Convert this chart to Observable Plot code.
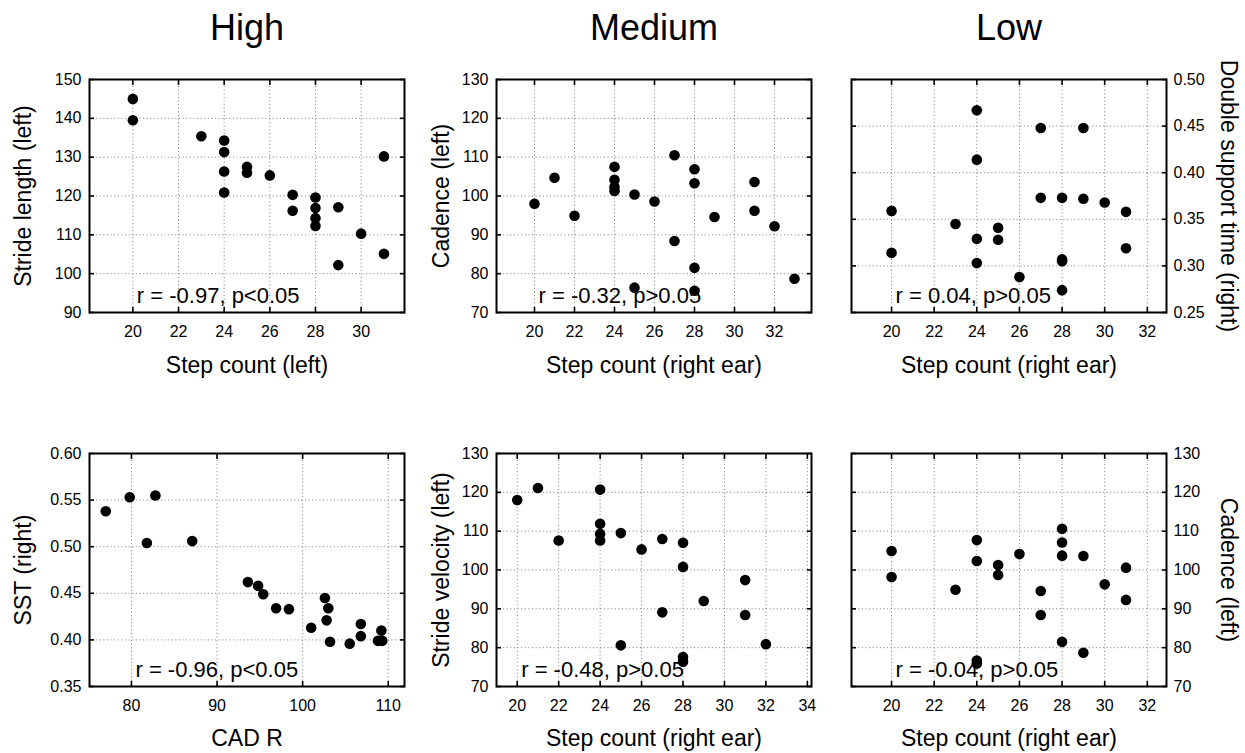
<!DOCTYPE html>
<html><head><meta charset="utf-8">
<script src="https://cdn.jsdelivr.net/npm/d3@7"></script>
<script src="https://cdn.jsdelivr.net/npm/@observablehq/plot@0.6"></script>
<style>
body{margin:0;background:#fff;}
#wrap{position:relative;width:1245px;height:753px;background:#fff;overflow:hidden;}
#wrap svg{position:absolute;}
</style></head><body><div id="wrap"></div>
<script>
// ---- data ----
const groupTitles = ["High", "Medium", "Low"];

// High (top): step count (left) vs stride length (left)
const highTopX = [20, 20, 23, 24, 24, 24, 24, 25, 25, 26, 27, 27, 28, 28, 28, 28, 29, 29, 30, 31, 31];
const highTopY = [145.0, 139.5, 135.4, 134.3, 131.3, 126.3, 120.9, 127.5, 126.0, 125.3, 120.3, 116.2, 119.6, 116.9, 114.3, 112.3, 117.1, 102.2, 110.3, 130.2, 105.1];

// Medium (top): step count (right ear) vs cadence (left)
const medTopX = [20, 21, 22, 24, 24, 24, 24, 25, 25, 26, 27, 27, 28, 28, 28, 28, 29, 31, 31, 32, 33];
const medTopY = [98.0, 104.7, 94.9, 107.5, 104.2, 102.3, 101.3, 100.4, 76.4, 98.6, 110.5, 88.4, 106.9, 103.3, 81.5, 75.6, 94.6, 103.6, 96.2, 92.2, 78.7];

// Low (top): step count (right ear) vs double support time (right)
const lowTopX = [20, 20, 23, 24, 24, 24, 24, 25, 25, 26, 27, 27, 28, 28, 28, 28, 29, 29, 30, 31, 31];
const lowTopY = [0.359, 0.314, 0.345, 0.467, 0.414, 0.329, 0.303, 0.341, 0.328, 0.288, 0.448, 0.373, 0.373, 0.307, 0.305, 0.274, 0.448, 0.372, 0.368, 0.358, 0.319];

// High (bottom): CAD R vs SST (right)
const highBotX = [77.0, 79.8, 82.8, 81.8, 87.1, 93.6, 94.8, 95.4, 96.9, 98.4, 101.0, 102.6, 103.0, 102.8, 103.2, 105.5, 106.8, 106.8, 109.2, 108.8, 109.3];
const highBotY = [0.538, 0.553, 0.555, 0.504, 0.506, 0.462, 0.458, 0.449, 0.434, 0.433, 0.413, 0.445, 0.434, 0.421, 0.398, 0.396, 0.417, 0.404, 0.410, 0.399, 0.399];

// Medium (bottom): step count (right ear) vs stride velocity (left)
const medBotX = [20, 21, 22, 24, 24, 24, 24, 25, 25, 26, 27, 27, 28, 28, 28, 28, 29, 31, 31, 32];
const medBotY = [118.0, 121.1, 107.6, 120.7, 111.9, 109.3, 107.6, 109.5, 80.6, 105.3, 108.0, 89.1, 107.0, 100.8, 77.6, 76.4, 92.0, 97.4, 88.4, 80.9];

// Low (bottom): step count (right ear) vs cadence (left)
const lowBotX = [20, 20, 23, 24, 24, 24, 24, 25, 25, 26, 27, 27, 28, 28, 28, 28, 29, 29, 30, 31, 31];
const lowBotY = [104.9, 98.2, 94.9, 107.7, 102.3, 76.7, 75.9, 101.3, 98.7, 104.1, 94.6, 88.4, 110.6, 107.1, 103.7, 81.5, 103.6, 78.7, 96.3, 100.6, 92.3];

// tick values
const stepTicks20to30 = [20, 22, 24, 26, 28, 30];
const stepTicks20to32 = [20, 22, 24, 26, 28, 30, 32];
const stepTicks20to34 = [20, 22, 24, 26, 28, 30, 32, 34];
const cadTicks = [80, 90, 100, 110];
const strideLengthTicks = [90, 100, 110, 120, 130, 140, 150];
const pct70to130Ticks = [70, 80, 90, 100, 110, 120, 130];
const dstTicks = [0.25, 0.30, 0.35, 0.40, 0.45, 0.50];
const sstTicks = [0.35, 0.40, 0.45, 0.50, 0.55, 0.60];

// axis labels & notes
const notes = ["r = -0.97, p<0.05", "r = -0.32, p>0.05", "r = 0.04, p>0.05", "r = -0.96, p<0.05", "r = -0.48, p>0.05", "r = -0.04, p>0.05"];

// ---- drawing ----
const FONT = "'Liberation Sans', Arial, Helvetica, sans-serif";
const wrap = document.getElementById("wrap");

function panel(o) {
  const data = o.x.map((v, i) => ({x: v, y: o.y[i]}));
  const yFmt = o.yFmt || (d => String(d));
  const other = o.yAnchor === "left" ? "right" : "left";
  const grid = {stroke: "#7a7a7a", strokeOpacity: 1, strokeWidth: 1, strokeDasharray: "1,2.6"};
  const marks = [
    Plot.gridX(o.xTicks, grid),
    Plot.gridY(o.yTicks, grid),
    Plot.axisX({anchor: "bottom", ticks: o.xTicks, tickSize: -5, tickPadding: 18, fontSize: 16, strokeWidth: 1.6, label: null}),
    Plot.axisX({anchor: "top", ticks: o.xTicks, tickSize: -5, tickFormat: () => "", strokeWidth: 1.6, label: null}),
    Plot.axisY({anchor: o.yAnchor, ticks: o.yTicks, tickSize: -5, tickPadding: o.yAnchor === "left" ? 13 : 12, fontSize: 16, tickFormat: yFmt, strokeWidth: 1.6, label: null}),
    Plot.axisY({anchor: other, ticks: o.yTicks, tickSize: -5, tickFormat: () => "", strokeWidth: 1.6, label: null}),
    Plot.frame({stroke: "black", strokeWidth: 2}),
    Plot.dot(data, {x: "x", y: "y", r: 5.3, fill: "black", stroke: "none"}),
    Plot.text([o.note], {x: () => o.xTicks[0], frameAnchor: "bottom", textAnchor: "start", lineAnchor: "middle", dx: 4, dy: -17, fontSize: 22, fill: "black"}),
    Plot.text([o.xLabel], {frameAnchor: "bottom", textAnchor: "middle", lineAnchor: "middle", dy: o.xLabelDy, fontSize: 23, fill: "black"}),
    Plot.text([o.yLabel], {frameAnchor: o.yAnchor, textAnchor: "middle", rotate: o.yAnchor === "left" ? -90 : 90, lineAnchor: "middle", dx: o.yLabelDx, fontSize: 23, fill: "black"})
  ];
  if (o.title) marks.push(Plot.text([o.title], {frameAnchor: "top", textAnchor: "middle", lineAnchor: "middle", dy: -51, fontSize: 36, fill: "black"}));
  const svg = Plot.plot({
    width: o.width, height: o.height,
    marginLeft: o.ml, marginRight: o.mr, marginTop: o.mt, marginBottom: o.mb,
    x: {domain: o.xDomain},
    y: {domain: o.yDomain},
    style: {fontFamily: FONT, color: "black", background: "transparent", overflow: "visible"},
    marks
  });
  svg.style.left = o.left + "px";
  svg.style.top = o.top + "px";
  wrap.appendChild(svg);
}

const cols = [
  {left: 0, width: 420, ml: 89, mr: 16, yAnchor: "left", yLabelDx: -66},
  {left: 420, width: 420, ml: 76, mr: 29, yAnchor: "left", yLabelDx: -55},
  {left: 840, width: 405, ml: 11, mr: 79, yAnchor: "right", yLabelDx: 62}
];
const rowTop = {top: 0, height: 400, mt: 79, mb: 88, xLabelDy: 53};
const rowBot = {top: 400, height: 353, mt: 53, mb: 67, xLabelDy: 52};

panel({...cols[0], ...rowTop, title: groupTitles[0], x: highTopX, y: highTopY, xDomain: [18.1, 31.9], yDomain: [90, 150], xTicks: stepTicks20to30, yTicks: strideLengthTicks, xLabel: "Step count (left)", yLabel: "Stride length (left)", note: notes[0]});
panel({...cols[1], ...rowTop, title: groupTitles[1], x: medTopX, y: medTopY, xDomain: [18.1, 33.85], yDomain: [70, 130], xTicks: stepTicks20to32, yTicks: pct70to130Ticks, xLabel: "Step count (right ear)", yLabel: "Cadence (left)", note: notes[1]});
panel({...cols[2], ...rowTop, title: groupTitles[2], x: lowTopX, y: lowTopY, xDomain: [18.12, 32.9], yDomain: [0.25, 0.5], xTicks: stepTicks20to32, yTicks: dstTicks, yFmt: d3.format(".2f"), xLabel: "Step count (right ear)", yLabel: "Double support time (right)", note: notes[2]});
panel({...cols[0], ...rowBot, x: highBotX, y: highBotY, xDomain: [75.1, 111.9], yDomain: [0.35, 0.6], xTicks: cadTicks, yTicks: sstTicks, yFmt: d3.format(".2f"), xLabel: "CAD R", yLabel: "SST (right)", note: notes[3]});
panel({...cols[1], ...rowBot, x: medBotX, y: medBotY, xDomain: [19.0, 34.2], yDomain: [70, 130], xTicks: stepTicks20to34, yTicks: pct70to130Ticks, xLabel: "Step count (right ear)", yLabel: "Stride velocity (left)", note: notes[4]});
panel({...cols[2], ...rowBot, x: lowBotX, y: lowBotY, xDomain: [18.12, 32.9], yDomain: [70, 130], xTicks: stepTicks20to32, yTicks: pct70to130Ticks, xLabel: "Step count (right ear)", yLabel: "Cadence (left)", note: notes[5]});
</script>
</body></html>
